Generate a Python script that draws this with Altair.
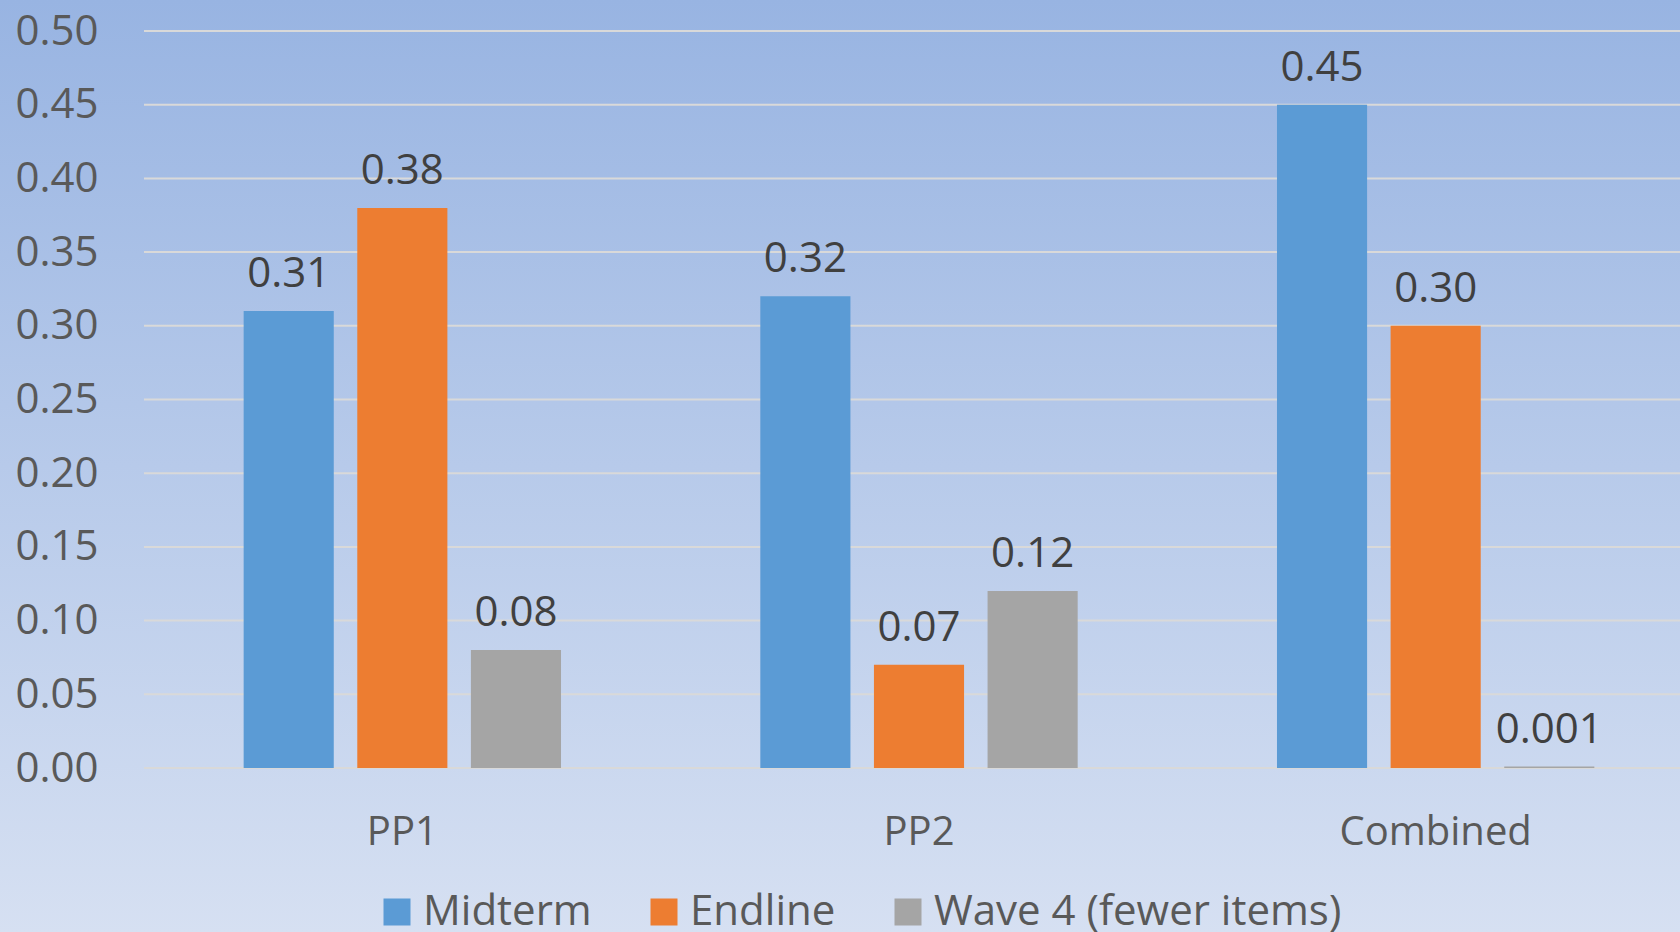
import altair as alt
import pandas as pd

categories = ["PP1", "PP2", "Combined"]
series = ["Midterm", "Endline", "Wave 4 (fewer items)"]
midterm = [0.31, 0.32, 0.45]
endline = [0.38, 0.07, 0.30]
wave4 = [0.08, 0.12, 0.001]
labels_mid = ["0.31", "0.32", "0.45"]
labels_end = ["0.38", "0.07", "0.30"]
labels_w4 = ["0.08", "0.12", "0.001"]
colors = ["#5B9BD5", "#ED7D31", "#A5A5A5"]
y_ticks = [0.0, 0.05, 0.10, 0.15, 0.20, 0.25, 0.30, 0.35, 0.40, 0.45, 0.50]

rows = []
for s, vals, labs in zip(series, [midterm, endline, wave4], [labels_mid, labels_end, labels_w4]):
    for c, v, l in zip(categories, vals, labs):
        rows.append({"category": c, "series": s, "value": v, "label": l})
df = pd.DataFrame(rows)
grid_df = pd.DataFrame({"value": y_ticks})

W, H = 1536, 737
FONT = "Open Sans"

x = alt.X(
    "category:N",
    sort=categories,
    scale=alt.Scale(range=[0, 1550], paddingInner=0, paddingOuter=0),
    axis=alt.Axis(
        title=None, ticks=False, domain=False, labelAngle=0, grid=False,
        labelFontSize=40, labelColor="#595959", labelFont=FONT, labelLimit=0,
        labelBaseline="alphabetic", labelPadding=76, zindex=1,
    ),
)
xo = alt.XOffset(
    "series:N", sort=series,
    scale=alt.Scale(paddingInner=0.207, paddingOuter=0.877),
)
yscale = alt.Scale(domain=[0, 0.5], nice=False)
y = alt.Y(
    "value:Q",
    scale=yscale,
    axis=alt.Axis(
        title=None, values=y_ticks, format=".2f", ticks=False, domain=False,
        labelFontSize=42, labelColor="#595959", labelFont=FONT, labelPadding=46,
        grid=False, zindex=1,
    ),
)
color = alt.Color(
    "series:N", sort=series,
    scale=alt.Scale(domain=series, range=colors),
    legend=alt.Legend(
        title=None, orient="none", legendX=232, legendY=860, direction="horizontal",
        symbolType="square", symbolSize=729, symbolStrokeWidth=0,
        labelFontSize=42, labelColor="#595959", labelFont=FONT, labelLimit=0,
        labelOffset=5, columnPadding=51, padding=0,
    ),
)

bg = alt.Chart(pd.DataFrame({"a": [0]})).mark_rect(
    fill=alt.Gradient(
        gradient="linear",
        stops=[alt.GradientStop(color="#98B4E2", offset=0),
               alt.GradientStop(color="#D6E0F2", offset=1)],
        x1=0, x2=0, y1=0, y2=1,
    )
).encode(x=alt.value(-144), x2=alt.value(W), y=alt.value(-31), y2=alt.value(H + 164))

grid = alt.Chart(grid_df).mark_rule(color="#D9D9D9", strokeWidth=2).encode(
    y=alt.Y("value:Q", scale=yscale), x=alt.value(0), x2=alt.value(W)
)

bars = alt.Chart(df).mark_bar().encode(x=x, xOffset=xo, y=y, color=color)

text = alt.Chart(df).mark_text(
    font=FONT, fontSize=42, color="#404040", baseline="alphabetic", dy=-24
).encode(x=x, xOffset=xo, y=y, text="label:N")

chart = alt.layer(bg, grid, bars, text).properties(
    width=W, height=H,
    autosize=alt.AutoSizeParams(type="none"),
    padding={"left": 144, "top": 31, "right": 0, "bottom": 164},
).configure_view(stroke=None).configure(background="#D6E0F2")

chart.save("out.html", embed_options={"renderer": "svg", "actions": False})
